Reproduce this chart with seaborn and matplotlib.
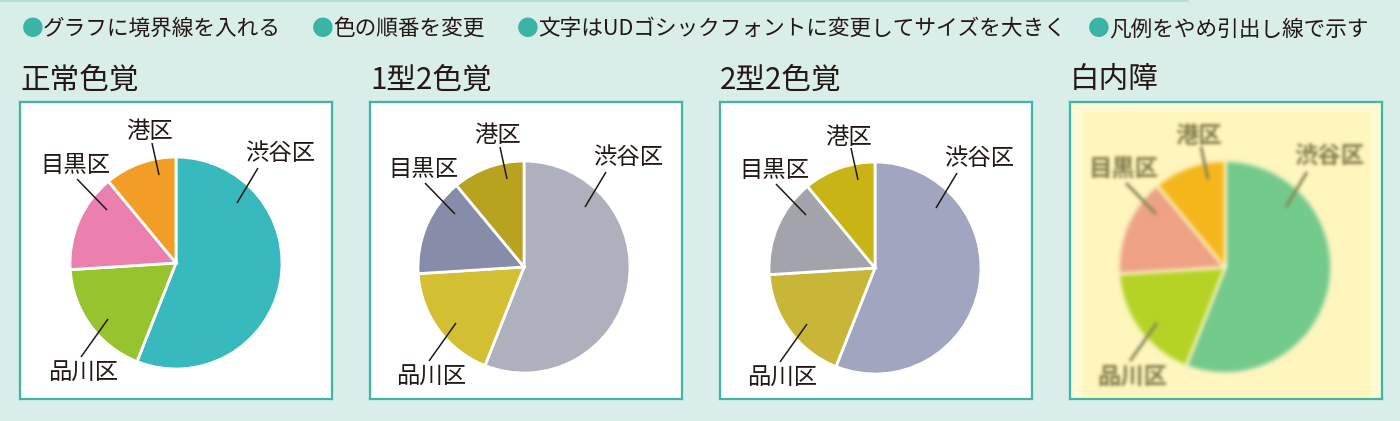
import numpy as np
import matplotlib
matplotlib.use("Agg")
import matplotlib.pyplot as plt
from matplotlib.patches import Rectangle
from matplotlib.lines import Line2D
import seaborn as sns

# ---------------- data ----------------
wards = ["渋谷区", "品川区", "目黒区", "港区"]
shares = [56, 18, 15, 11]
panel_titles = ["正常色覚", "1型2色覚", "2型2色覚", "白内障"]
bullet_items = ["グラフに境界線を入れる", "色の順番を変更",
                "文字はUDゴシックフォントに変更してサイズを大きく", "凡例をやめ引出し線で示す"]
colors_normal = ["#38b9bd", "#96c32e", "#eb80ae", "#f29d26"]
colors_protan = ["#aeb0bd", "#d2bf32", "#878ca8", "#b8a321"]
colors_deutan = ["#a1a5c0", "#c8b638", "#a3a4ab", "#c8b414"]
colors_cataract = ["#72ca8a", "#b4d324", "#eea284", "#f5b61c"]

# ---------------- style ----------------
sns.set_theme(style="white")
plt.rcParams['font.family'] = ['Noto Sans CJK JP', 'DejaVu Sans']

BG = "#d9eee8"
TEAL = "#3db6a6"
INK = "#231815"
W, H = 1400, 421

fig = plt.figure(figsize=(W / 100, H / 100), dpi=100, facecolor=BG)

# top thin rule
fig.add_artist(Line2D([0, 1188 / W], [1 - 1 / H, 1 - 1 / H], color="#b4e0d6", lw=1.5))

# bullet row
bullet_x = [22, 312, 517, 1088]
for bx, txt in zip(bullet_x, bullet_items):
    fig.text(bx / W, 1 - 29 / H, "●", color="#3ab5a5", fontsize=15.6, va="center", ha="left")
    fig.text((bx + 21) / W, 1 - 29 / H, txt, color=INK, fontsize=15.6, va="center", ha="left")


def make_blur(sigma):
    pad = int(np.ceil(3 * sigma))
    xs = np.arange(-pad, pad + 1)
    k = np.exp(-xs ** 2 / (2 * sigma ** 2))
    k /= k.sum()

    def conv(arr, axis):
        n = arr.shape[axis]
        padw = [(0, 0)] * arr.ndim
        padw[axis] = (pad, pad)
        p = np.pad(arr, padw)
        out = np.zeros_like(arr)
        for i, w in enumerate(k):
            sl = [slice(None)] * arr.ndim
            sl[axis] = slice(i, i + n)
            out += w * p[tuple(sl)]
        return out

    def f(im, dpi):
        a = np.pad(im, ((pad, pad), (pad, pad), (0, 0)))
        alpha = a[..., 3:4]
        stack = np.concatenate([a[..., :3] * alpha, alpha], axis=-1)
        s = conv(conv(stack, 0), 1)
        al = s[..., 3:4]
        rgb = s[..., :3] / np.maximum(al, 1e-6)
        out = np.clip(np.concatenate([rgb, al], axis=-1), 0, 1)
        return out, -pad, -pad
    return f


# layout
panel_x = [20, 370, 720, 1070]
panel_top, panel_bottom = 102, 399
PW, PH = 312, panel_bottom - panel_top
pie_cx = [156, 154, 155, 155]
pie_cy = [161, 165, 166, 165]
R = 106
label_off = {"渋谷区": (104, -110), "品川区": (-93, 110), "目黒区": (-101, -98), "港区": (-26, -131)}
leader_off = {"渋谷区": ((82, -95), (61, -60)), "品川区": ((-95, 94), (-68, 56)),
              "目黒区": ((-99, -84), (-69, -53)), "港区": ((-24, -120), (-17, -88))}

palettes = [colors_normal, colors_protan, colors_deutan, colors_cataract]

for i, (title, cols) in enumerate(zip(panel_titles, palettes)):
    x0 = panel_x[i]
    fig.text(x0 / W, 1 - 80 / H, title, color=INK, fontsize=21.3, va="center", ha="left")
    ax = fig.add_axes([x0 / W, 1 - panel_bottom / H, PW / W, PH / H])
    cataract = (i == 3)
    ax.set_facecolor("#fffad6" if cataract else "white")
    cx, cy = pie_cx[i], PH - pie_cy[i]
    if cataract:
        ax.add_patch(Rectangle((12, PH - 295), 289, 285, facecolor="#fff6bd", edgecolor="none", zorder=0))
    pal = sns.color_palette(cols)
    wedges, _ = ax.pie(shares, colors=pal, startangle=90, counterclock=False,
                       center=(cx, cy), radius=R, frame=True,
                       wedgeprops=dict(edgecolor="#fff8d0" if cataract else "white",
                                       linewidth=1.2 if cataract else 2.0))
    blur = make_blur(2.2) if cataract else None
    if cataract:
        for w in wedges:
            w.set_agg_filter(blur)
    for name in wards:
        (ox1, oy1), (ox2, oy2) = leader_off[name]
        ln, = ax.plot([cx + ox1, cx + ox2], [cy - oy1, cy - oy2],
                      color="#8a8858" if cataract else INK,
                      lw=2.2 if cataract else 1.1, solid_capstyle="butt", zorder=5)
        lx, ly = label_off[name]
        t = ax.text(cx + lx, cy - ly, name, fontsize=16.8, ha="center", va="center",
                    color="#7d7a48" if cataract else INK,
                    fontweight="bold" if cataract else "normal", zorder=6)
        if cataract:
            ln.set_agg_filter(make_blur(1.6))
            t.set_agg_filter(make_blur(1.6))
    ax.set_xlim(0, PW)
    ax.set_ylim(0, PH)
    ax.set_aspect("auto")
    ax.set_xticks([])
    ax.set_yticks([])
    for sp in ax.spines.values():
        sp.set_visible(True)
        sp.set_color(TEAL)
        sp.set_linewidth(1.6)

fig.savefig("out.png", dpi=100, facecolor=BG)
